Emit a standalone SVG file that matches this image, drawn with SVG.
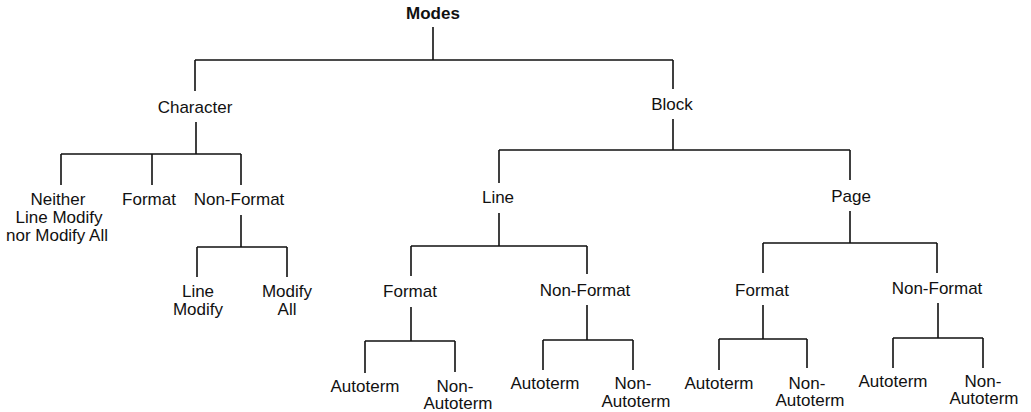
<svg xmlns="http://www.w3.org/2000/svg" width="1031" height="412" viewBox="0 0 1031 412">
<style>
text{font-family:"Liberation Sans",Arial,sans-serif;font-size:17px;fill:#111;text-anchor:middle}
.b{font-weight:bold}
#connectors path{fill:none;stroke:#111;stroke-width:1.6}
</style>
<rect width="1031" height="412" fill="#fff"/>
<g id="connectors">
<path d="M433,27V60M195,60H673M195,60V91M673,60V89"/>
<path d="M196,122V154M61,154H241M61,154V185M152,154V185M241,154V185"/>
<path d="M241,215V247M197,247H287M197,247V277M287,247V277"/>
<path d="M673,119V150M499,150H850M499,150V183M850,150V180"/>
<path d="M499,213V246M411,246H587M411,246V276M587,246V274"/>
<path d="M411,307V341M365,341H455M365,341V373M455,341V372"/>
<path d="M587,305V340M543,340H633M543,340V370M633,340V370"/>
<path d="M850,211V243M763,243H937M763,243V273M937,243V273"/>
<path d="M763,305V339M719,339H807M719,339V370M807,339V368"/>
<path d="M938,303V338M893,338H983M893,338V368M983,338V368"/>
</g>
<g id="modes"><text class="b" x="433" y="19">Modes</text></g>
<g id="character"><text x="195" y="113">Character</text></g>
<g id="block"><text x="672" y="110">Block</text></g>
<g id="neither"><text x="58" y="205">Neither</text><text x="59" y="223">Line Modify</text><text x="57" y="241">nor Modify All</text></g>
<g id="char-format"><text x="149" y="205">Format</text></g>
<g id="char-nonformat"><text x="239" y="205">Non-Format</text></g>
<g id="line-modify"><text x="198" y="297">Line</text><text x="198" y="315">Modify</text></g>
<g id="modify-all"><text x="287" y="297">Modify</text><text x="287" y="315">All</text></g>
<g id="line"><text x="498" y="203">Line</text></g>
<g id="page"><text x="851" y="202">Page</text></g>
<g id="line-format"><text x="410" y="297">Format</text></g>
<g id="line-nonformat"><text x="585" y="296">Non-Format</text></g>
<g id="page-format"><text x="762" y="296">Format</text></g>
<g id="page-nonformat"><text x="937" y="294">Non-Format</text></g>
<g id="lf-auto"><text x="365" y="392">Autoterm</text></g>
<g id="lf-nonauto"><text x="455" y="392">Non-</text><text x="458" y="409">Autoterm</text></g>
<g id="ln-auto"><text x="545" y="389">Autoterm</text></g>
<g id="ln-nonauto"><text x="633" y="389">Non-</text><text x="636" y="407">Autoterm</text></g>
<g id="pf-auto"><text x="719" y="389">Autoterm</text></g>
<g id="pf-nonauto"><text x="807" y="389">Non-</text><text x="810" y="406">Autoterm</text></g>
<g id="pn-auto"><text x="893" y="387">Autoterm</text></g>
<g id="pn-nonauto"><text x="983" y="387">Non-</text><text x="984" y="404">Autoterm</text></g>
</svg>
